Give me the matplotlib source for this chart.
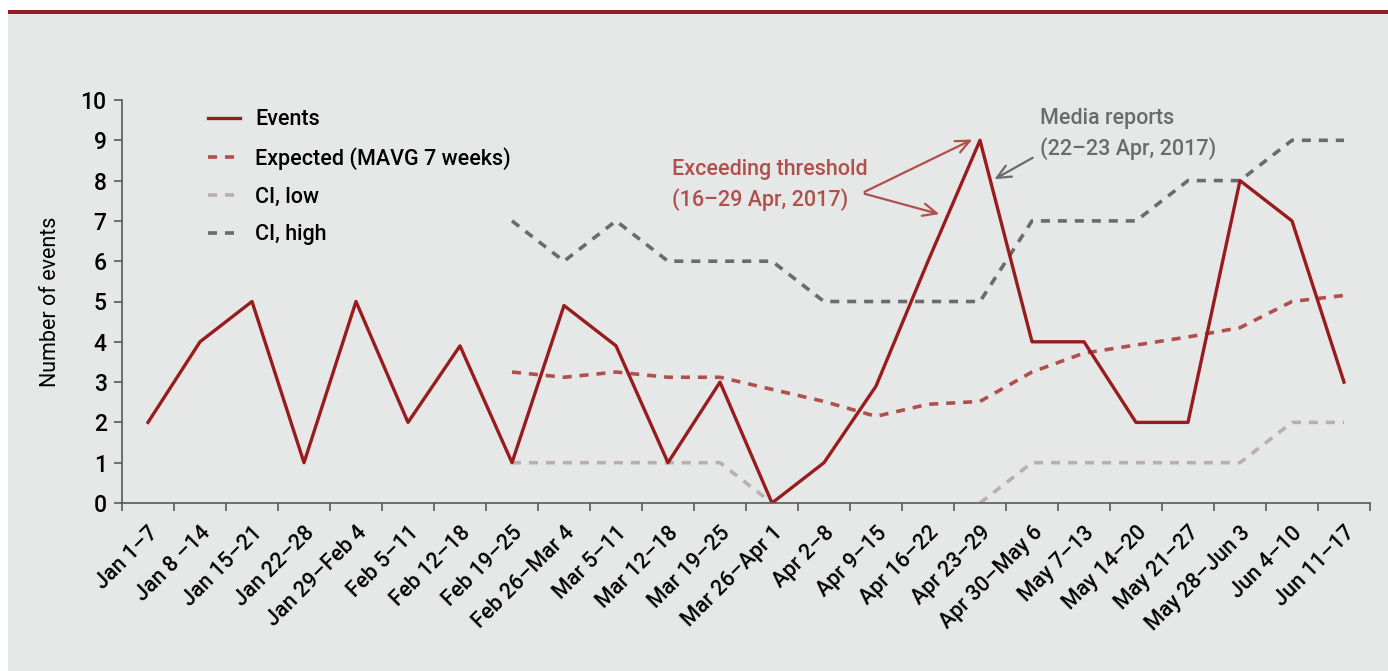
import matplotlib.pyplot as plt
from matplotlib.patches import Rectangle
import numpy as np

# dados
weeks = ['Jan 1–7', 'Jan 8 –14', 'Jan 15–21', 'Jan 22–28', 'Jan 29–Feb 4', 'Feb 5–11',
         'Feb 12–18', 'Feb 19–25', 'Feb 26–Mar 4', 'Mar 5–11', 'Mar 12–18', 'Mar 19–25',
         'Mar 26–Apr 1', 'Apr 2–8', 'Apr 9–15', 'Apr 16–22', 'Apr 23–29', 'Apr 30–May 6',
         'May 7–13', 'May 14–20', 'May 21–27', 'May 28–Jun 3', 'Jun 4–10', 'Jun 11–17']
events = [2, 4, 5, 1, 5, 2, 3.9, 1, 4.9, 3.9, 1, 3, 0, 1, 2.9, 6, 9, 4, 4, 2, 2, 8, 7, 3]
nan = np.nan
expected = [nan] * 7 + [3.25, 3.12, 3.25, 3.12, 3.12, 2.82, 2.52, 2.15, 2.45, 2.52,
                        3.25, 3.72, 3.92, 4.12, 4.35, 5.0, 5.15]
ci_low = [nan] * 7 + [1, 1, 1, 1, 1, 0, nan, nan, nan, 0, 1, 1, 1, 1, 1, 2, 2]
ci_high = [nan] * 7 + [7, 6, 7, 6, 6, 6, 5, 5, 5, 5, 7, 7, 7, 8, 8, 9, 9]

plt.rcParams['font.family'] = ['Roboto', 'DejaVu Sans']
plt.rcParams['font.weight'] = 'medium'
fs = 15.5

red = '#981b1e'
red_light = '#b0504c'
gray_light = '#b9afaf'
gray_dark = '#6b6b6b'
bg = '#e6e8e7'

fig = plt.figure(figsize=(13.88, 6.71), dpi=100)
fig.patch.set_facecolor('white')
fig.patches.append(Rectangle((8 / 1388, 0), 1, 1 - 13 / 671, transform=fig.transFigure,
                             facecolor=bg, edgecolor='none', zorder=-2))
fig.patches.append(Rectangle((8 / 1388, 1 - 14 / 671), 1, 4 / 671, transform=fig.transFigure,
                             facecolor=red, edgecolor='none', zorder=-1))

ax = fig.add_axes([122 / 1388, 1 - 503 / 671, 1248 / 1388, 403 / 671])
ax.set_facecolor('none')
x = np.arange(len(weeks))

ax.plot(x, events, color=red, lw=2.4, label='Events', zorder=5)
ax.plot(x, expected, color=red_light, lw=2.6, ls=(0, (2.5, 2.2)), label='Expected (MAVG 7 weeks)', zorder=4)
ax.plot(x, ci_low, color=gray_light, lw=2.6, ls=(0, (2.5, 2.2)), label='CI, low', zorder=3)
ax.plot(x, ci_high, color=gray_dark, lw=2.6, ls=(0, (2.5, 2.2)), label='CI, high', zorder=3)

ax.set_xlim(-0.5, len(weeks) - 0.5)
ax.set_ylim(0, 10)
ax.set_yticks(range(0, 11))
ax.set_xticks(np.arange(-0.5, len(weeks)))
ax.set_xticklabels([])
ax.set_xticks(x, minor=True)
ax.set_xticklabels(weeks, minor=True, rotation=45, ha='right', rotation_mode='anchor', fontsize=15.5)
ax.tick_params(axis='x', which='minor', length=0, pad=14)
ax.tick_params(axis='x', which='major', length=6, width=1.2, color='#595959')
ax.tick_params(axis='y', length=6, width=1.2, color='#595959', labelsize=fs + 1, pad=5)
for s in ['top', 'right']:
    ax.spines[s].set_visible(False)
for s in ['left', 'bottom']:
    ax.spines[s].set_color('#595959')
    ax.spines[s].set_linewidth(1.2)
    ax.spines[s].set_zorder(6)
ax.set_ylabel('Number of events', fontsize=fs, labelpad=14)

leg = ax.legend(loc='upper left', bbox_to_anchor=(0.053, 1.025), frameon=False, fontsize=fs,
                handlelength=1.5, handletextpad=0.7, labelspacing=0.78)

ax.annotate('', xy=(15.9, 9.05), xytext=(13.73, 7.69),
            arrowprops=dict(arrowstyle='->,head_length=1.0,head_width=0.45', color=red_light, lw=1.6))
ax.annotate('', xy=(15.27, 7.15), xytext=(13.73, 7.69),
            arrowprops=dict(arrowstyle='->,head_length=1.0,head_width=0.45', color=red_light, lw=1.6))
ax.text(10.08, 7.9, 'Exceeding threshold\n(16–29 Apr, 2017)', color=red_light, fontsize=fs,
        ha='left', va='center', linespacing=1.45)
ax.annotate('', xy=(16.23, 8.0), xytext=(17.06, 8.6),
            arrowprops=dict(arrowstyle='->,head_length=1.0,head_width=0.45', color=gray_dark, lw=1.6))
ax.text(17.15, 9.16, 'Media reports\n(22–23 Apr, 2017)', color=gray_dark, fontsize=fs,
        ha='left', va='center', linespacing=1.45)

plt.savefig('out.png', dpi=100, facecolor=fig.get_facecolor())
